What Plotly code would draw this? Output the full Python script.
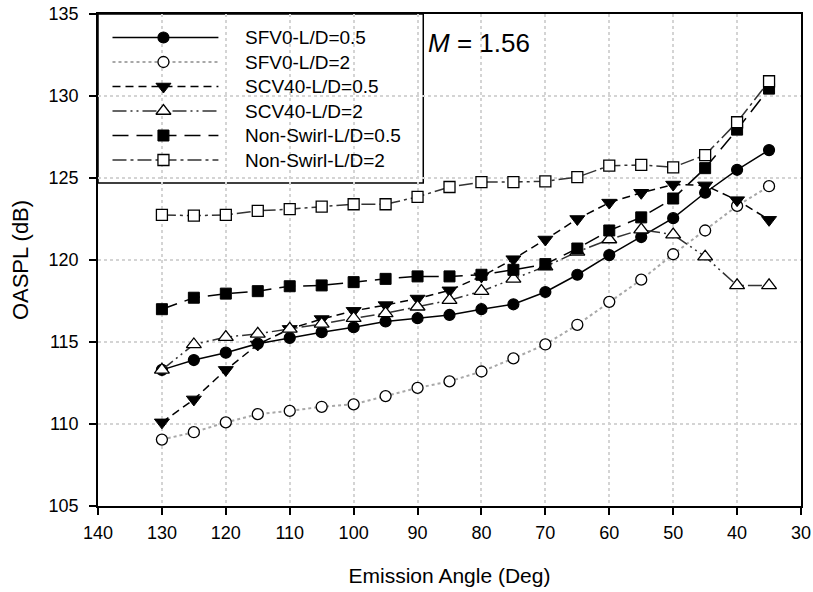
import plotly.graph_objects as go

angles = [130, 125, 120, 115, 110, 105, 100, 95, 90, 85, 80, 75, 70, 65, 60, 55, 50, 45, 40, 35]

sfv0_ld05 = [113.3, 113.9, 114.35, 114.9, 115.25, 115.6, 115.9, 116.25, 116.45, 116.65, 117.0, 117.3, 118.05, 119.1, 120.3, 121.4, 122.55, 124.1, 125.5, 126.7]
sfv0_ld2 = [109.05, 109.5, 110.1, 110.6, 110.8, 111.05, 111.2, 111.7, 112.2, 112.6, 113.2, 114.0, 114.85, 116.05, 117.45, 118.8, 120.35, 121.8, 123.3, 124.5]
scv40_ld05 = [110.1, 111.5, 113.3, 114.85, 115.8, 116.4, 116.9, 117.25, 117.65, 118.15, 119.0, 120.05, 121.25, 122.5, 123.5, 124.1, 124.6, 124.55, 123.65, 122.45]
scv40_ld2 = [113.3, 114.85, 115.3, 115.5, 115.8, 116.1, 116.45, 116.75, 117.15, 117.55, 118.1, 118.85, 119.6, 120.5, 121.25, 121.85, 121.55, 120.2, 118.45, 118.45]
nonswirl_ld05 = [117.0, 117.7, 117.95, 118.1, 118.4, 118.45, 118.65, 118.85, 119.0, 119.0, 119.1, 119.4, 119.75, 120.7, 121.8, 122.6, 123.75, 125.6, 127.95, 130.45]
nonswirl_ld2 = [122.75, 122.7, 122.75, 123.0, 123.1, 123.25, 123.4, 123.4, 123.85, 124.45, 124.75, 124.75, 124.8, 125.05, 125.75, 125.8, 125.65, 126.4, 128.4, 130.9]

series_names = ["SFV0-L/D=0.5", "SFV0-L/D=2", "SCV40-L/D=0.5", "SCV40-L/D=2",
                "Non-Swirl-L/D=0.5", "Non-Swirl-L/D=2"]
series_values = [sfv0_ld05, sfv0_ld2, scv40_ld05, scv40_ld2, nonswirl_ld05, nonswirl_ld2]

styles = [
    dict(line=dict(color="black", width=1.5, dash="solid"),
         marker=dict(symbol="circle", size=11, color="black", line=dict(color="black", width=1.2))),
    dict(line=dict(color="#a8a8a8", width=2, dash="dot"),
         marker=dict(symbol="circle", size=11, color="white", line=dict(color="black", width=1.3))),
    dict(line=dict(color="black", width=1.5, dash="8px,5px"),
         marker=dict(symbol="triangle-down", size=13, color="black", line=dict(color="black", width=1))),
    dict(line=dict(color="#333333", width=1.5, dash="14px,4px,2px,4px,2px,4px"),
         marker=dict(symbol="triangle-up", size=13, color="white", line=dict(color="black", width=1.3))),
    dict(line=dict(color="black", width=1.5, dash="16px,8px"),
         marker=dict(symbol="square", size=11, color="black", line=dict(color="black", width=1))),
    dict(line=dict(color="#333333", width=1.5, dash="14px,4px,3px,4px"),
         marker=dict(symbol="square", size=11, color="white", line=dict(color="black", width=1.3))),
]

FONT = "Liberation Sans, Arial, sans-serif"

fig = go.Figure()
for name, vals, st in zip(series_names, series_values, styles):
    fig.add_trace(go.Scatter(x=angles, y=vals, name=name, mode="lines+markers",
                             line=st["line"], marker=st["marker"], showlegend=False))

# Manual legend drawn on an overlay axis measured in pixels of the plot area
L, R, T, B = 97.5, 801, 14, 506
leg_rows = [37.5, 62, 86.5, 111, 135.5, 160]
for name, st, yy in zip(series_names, styles, leg_rows):
    fig.add_trace(go.Scatter(x=[112, 218], y=[yy, yy], mode="lines", line=st["line"],
                             xaxis="x2", yaxis="y2", showlegend=False, hoverinfo="skip"))
    fig.add_trace(go.Scatter(x=[163], y=[yy], mode="markers", marker=st["marker"],
                             xaxis="x2", yaxis="y2", showlegend=False, hoverinfo="skip"))
    fig.add_annotation(x=243, y=yy, xref="x2", yref="y2", text=name, showarrow=False,
                       xanchor="left", yanchor="middle",
                       font=dict(family=FONT, size=19, color="black"))

def px_x(p):
    return (p - L) / (R - L)

def px_y(p):
    return (B - p) / (B - T)

fig.add_shape(type="rect", xref="paper", yref="paper",
              x0=px_x(L), x1=px_x(423), y0=px_y(183), y1=px_y(T),
              line=dict(color="black", width=1.5), fillcolor="white", layer="between")

fig.add_annotation(x=426, y=43, xref="x2", yref="y2", text="<i>M</i> = 1.56", showarrow=False,
                   xanchor="left", yanchor="middle",
                   font=dict(family=FONT, size=26, color="black"))

axis_font = dict(family=FONT, size=18, color="black")
fig.update_layout(
    width=813, height=592,
    margin=dict(l=L, r=813 - R, t=T, b=592 - B),
    paper_bgcolor="white", plot_bgcolor="white",
    xaxis=dict(range=[140, 30], tickvals=[140, 130, 120, 110, 100, 90, 80, 70, 60, 50, 40, 30],
               showline=True, linecolor="black", linewidth=1.5, mirror=True,
               ticks="outside", ticklen=7, tickcolor="black", tickwidth=1.5,
               showgrid=True, gridcolor="#d4d4d4", griddash="dot", gridwidth=1.5,
               zeroline=False, tickfont=axis_font, automargin=False,
               ticklabeloverflow="allow", ticklabelstandoff=3,
               title=dict(text="Emission Angle (Deg)", font=dict(family=FONT, size=21, color="black"), standoff=26)),
    yaxis=dict(range=[105, 135], tickvals=[105, 110, 115, 120, 125, 130, 135],
               showline=True, linecolor="black", linewidth=1.5, mirror=True,
               ticks="outside", ticklen=7, tickcolor="black", tickwidth=1.5,
               showgrid=True, gridcolor="#d4d4d4", griddash="dot", gridwidth=1.5,
               zeroline=False, tickfont=axis_font, automargin=False,
               ticklabeloverflow="allow", ticklabelstandoff=7,
               title=dict(text="OASPL (dB)", font=dict(family=FONT, size=22, color="black"), standoff=14)),
    xaxis2=dict(range=[L, R], overlaying="x", anchor="y2", visible=False, fixedrange=True),
    yaxis2=dict(range=[B, T], overlaying="y", anchor="x2", visible=False, fixedrange=True),
    showlegend=False,
)

fig.write_html("out.html", config={"displayModeBar": False},
               post_script="document.body.style.margin='0';")
